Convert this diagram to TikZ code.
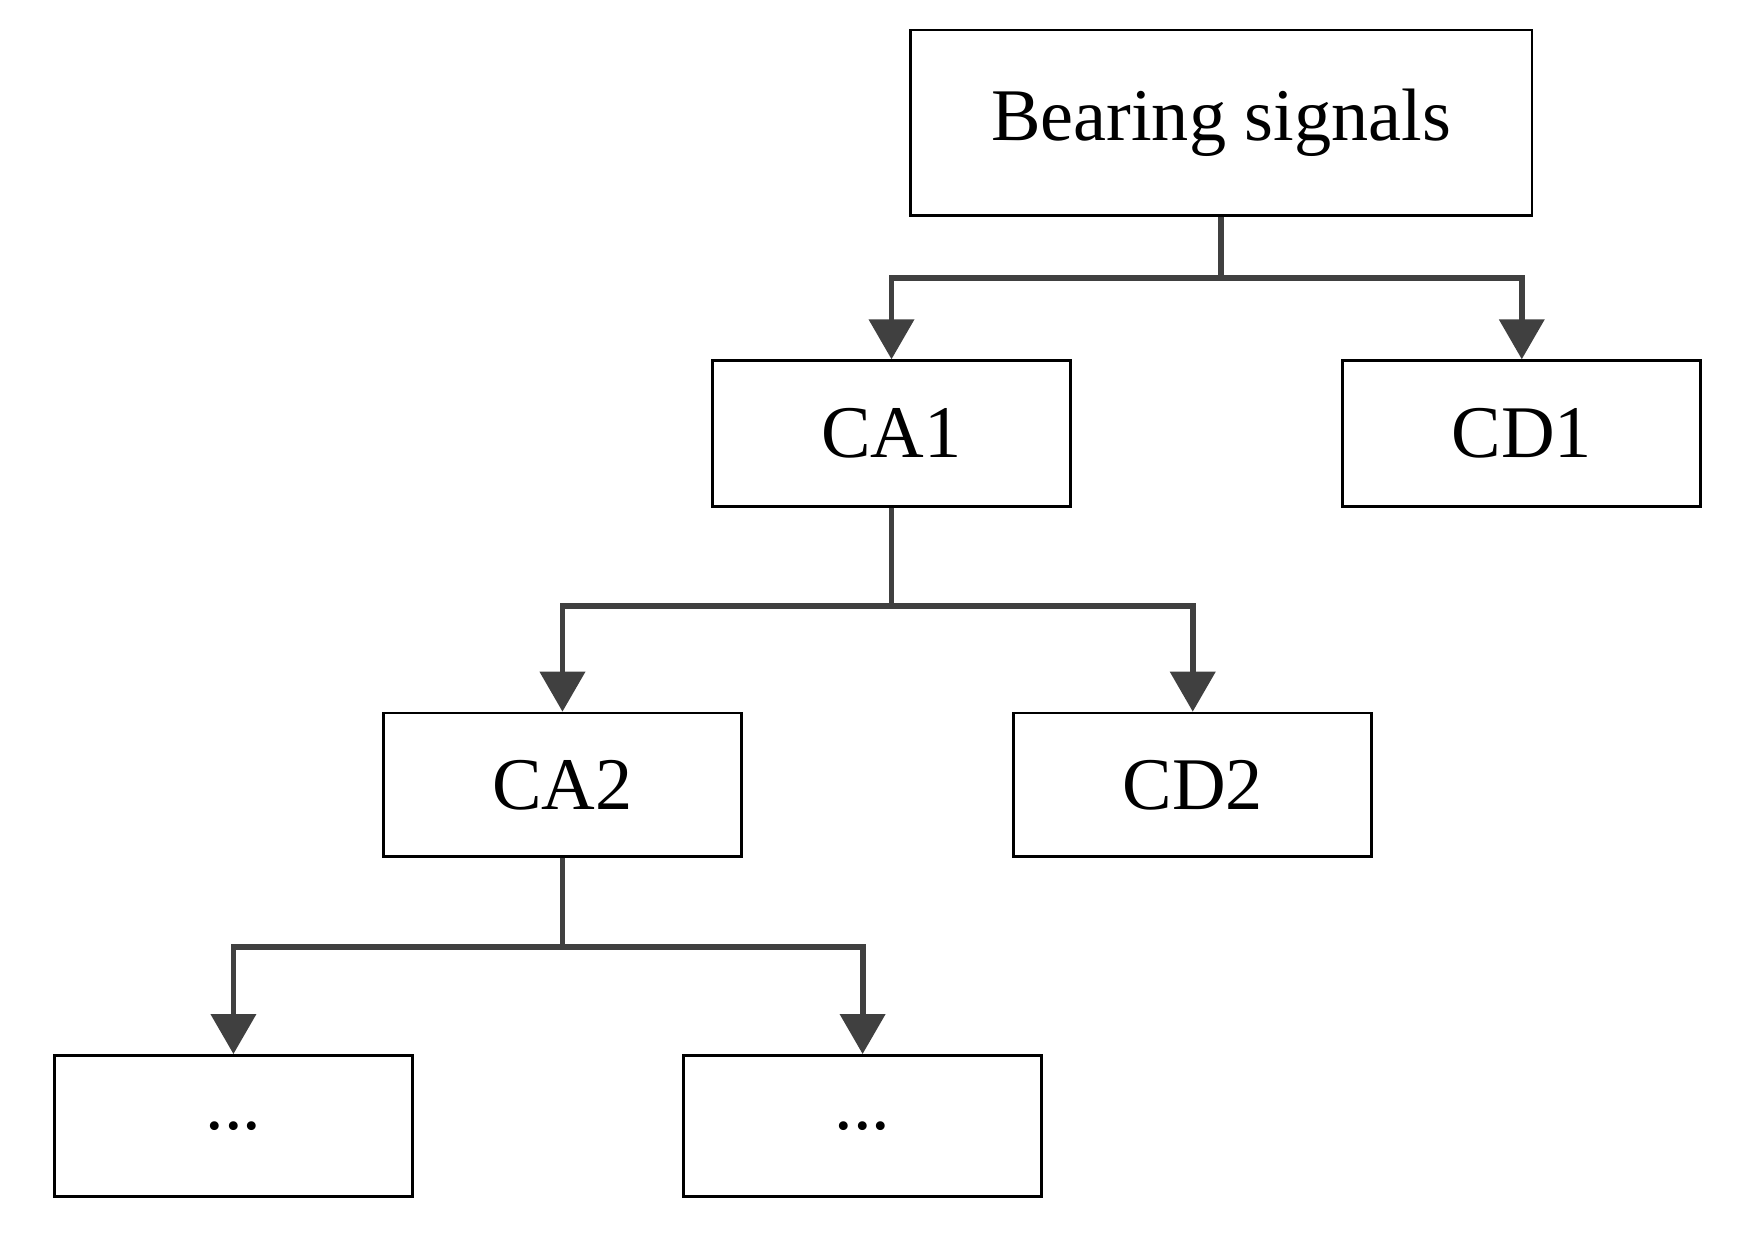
\documentclass[tikz,border=0pt]{standalone}
\usepackage{fontspec}
\setmainfont{Liberation Serif}
\usetikzlibrary{arrows.meta}
\begin{document}
\begin{tikzpicture}[x=0.01cm,y=-0.01cm,
  box/.style={draw=black,line width=0.7pt,minimum width=3.22cm,minimum height=1.29cm,inner sep=0pt,font=\fontsize{19}{22}\selectfont},
  conn/.style={draw=black!75,line width=1.5pt},
  arr/.style={conn,-{Triangle[width=0.4cm,length=0.36cm]}}]
\useasboundingbox (0,0) rectangle (1568,1112);
\node[box,minimum width=5.59cm,minimum height=1.67cm] (B) at (1098.5,110.5) {Bearing signals};
\node[box,minimum height=1.31cm] (CA1) at (802,390) {CA1};
\node[box,minimum height=1.31cm] (CD1) at (1369,390) {CD1};
\node[box] (CA2) at (506,706) {CA2};
\node[box] (CD2) at (1073,706) {CD2};
\node[box,minimum height=1.27cm] (D1) at (210,1013) {...};
\node[box,minimum height=1.27cm] (D2) at (776,1013) {...};
\coordinate (j1) at (1098.5,250);
\coordinate (j2) at (802,545);
\coordinate (j3) at (506,852);
\draw[conn] (B.south) -- (j1);
\draw[arr] (j1) -| (CA1.north);
\draw[arr] (j1) -| (CD1.north);
\draw[conn] (CA1.south) -- (j2);
\draw[arr] (j2) -| (CA2.north);
\draw[arr] (j2) -| (CD2.north);
\draw[conn] (CA2.south) -- (j3);
\draw[arr] (j3) -| (D1.north);
\draw[arr] (j3) -| (D2.north);
\end{tikzpicture}
\end{document}
